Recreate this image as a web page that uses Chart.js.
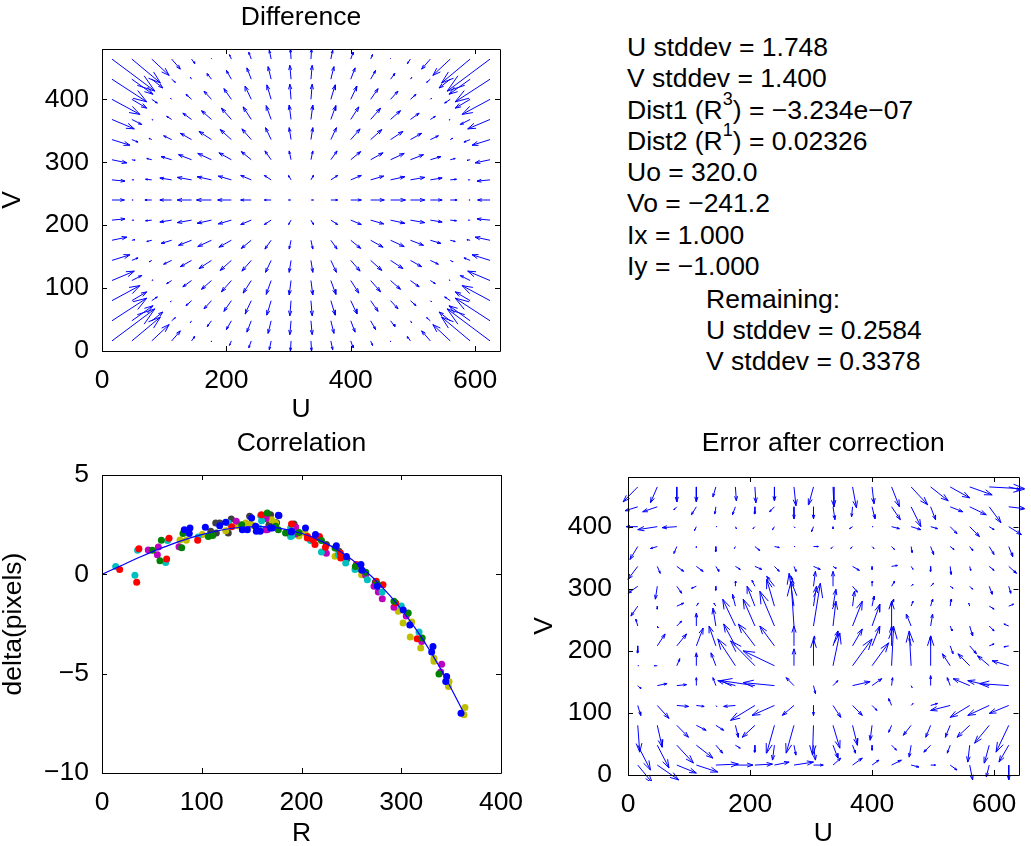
<!DOCTYPE html>
<html>
<head>
<meta charset="utf-8">
<title>Calibration</title>
<script src="https://cdn.jsdelivr.net/npm/chart.js@4.4.0/dist/chart.umd.min.js"></script>
<style>
  body { margin: 0; background: #fff; width: 1031px; height: 846px; position: relative; overflow: hidden;
         font-family: 'Liberation Sans', Arial, Helvetica, sans-serif; color: #000; }
  canvas { position: absolute; }
  .stats { position: absolute; font-size: 26.5px; line-height: 31.3px; white-space: pre; }
  .sup { font-size: 18px; vertical-align: 14px; line-height: 0; }
</style>
</head>
<body>
<canvas id="diff" width="518" height="426" style="left:-3px;top:0"></canvas>
<canvas id="corr" width="543" height="430" style="left:-3px;top:420px"></canvas>
<canvas id="err" width="516" height="430" style="left:515px;top:420px"></canvas>

<div class="stats" style="left:627px;top:32px">U stddev = 1.748
V stddev = 1.400
Dist1 (R<span class="sup">3</span>) = &minus;3.234e&minus;07
Dist2 (R<span class="sup">1</span>) = 0.02326
Uo = 320.0
Vo = &minus;241.2
Ix = 1.000
Iy = &minus;1.000</div>
<div class="stats" style="left:706px;top:284px;line-height:31px">Remaining:
U stddev = 0.2584
V stddev = 0.3378</div>

<script>
// grid of the quiver plots (pixel positions in the image)
const gridU = [16,48,80,112,144,176,208,240,272,304,336,368,400,432,464,496,528,560,592,624];
const gridV = [16,48,80,112,144,176,208,240,272,304,336,368,400,432,464];

// measured difference (pixels), rows = gridV, cols = gridU
const diffDU = [
  [6.9,4.6,2.8,1.4,0.5,0.0,-0.3,-0.4,-0.3,-0.1,0.1,0.3,0.4,0.3,0.0,-0.5,-1.4,-2.8,-4.6,-6.9],
  [5.6,3.4,1.8,0.6,-0.2,-0.7,-0.8,-0.7,-0.5,-0.2,0.2,0.5,0.7,0.8,0.7,0.2,-0.6,-1.8,-3.4,-5.6],
  [4.5,2.4,0.9,-0.2,-0.9,-1.2,-1.2,-1.0,-0.7,-0.2,0.2,0.7,1.0,1.2,1.2,0.9,0.2,-0.9,-2.4,-4.5],
  [3.6,1.6,0.2,-0.8,-1.4,-1.6,-1.6,-1.3,-0.8,-0.3,0.3,0.8,1.3,1.6,1.6,1.4,0.8,-0.2,-1.6,-3.6],
  [2.9,1.0,-0.4,-1.3,-1.8,-2.0,-1.8,-1.5,-0.9,-0.3,0.3,0.9,1.5,1.8,2.0,1.8,1.3,0.4,-1.0,-2.9],
  [2.4,0.5,-0.8,-1.7,-2.1,-2.2,-2.0,-1.6,-1.0,-0.3,0.3,1.0,1.6,2.0,2.2,2.1,1.7,0.8,-0.5,-2.4],
  [2.1,0.3,-1.0,-1.9,-2.3,-2.3,-2.1,-1.7,-1.1,-0.4,0.4,1.1,1.7,2.1,2.3,2.3,1.9,1.0,-0.3,-2.1],
  [2.0,0.2,-1.1,-1.9,-2.3,-2.4,-2.2,-1.7,-1.1,-0.4,0.4,1.1,1.7,2.2,2.4,2.3,1.9,1.1,-0.2,-2.0],
  [2.1,0.3,-1.0,-1.9,-2.3,-2.3,-2.1,-1.7,-1.1,-0.4,0.4,1.1,1.7,2.1,2.3,2.3,1.9,1.0,-0.3,-2.1],
  [2.4,0.5,-0.8,-1.7,-2.1,-2.2,-2.0,-1.6,-1.0,-0.3,0.3,1.0,1.6,2.0,2.2,2.1,1.7,0.8,-0.5,-2.4],
  [2.9,1.0,-0.4,-1.3,-1.8,-2.0,-1.8,-1.5,-0.9,-0.3,0.3,0.9,1.5,1.8,2.0,1.8,1.3,0.4,-1.0,-2.9],
  [3.6,1.6,0.2,-0.8,-1.4,-1.6,-1.6,-1.3,-0.8,-0.3,0.3,0.8,1.3,1.6,1.6,1.4,0.8,-0.2,-1.6,-3.6],
  [4.5,2.4,0.9,-0.2,-0.9,-1.2,-1.2,-1.0,-0.7,-0.2,0.2,0.7,1.0,1.2,1.2,0.9,0.2,-0.9,-2.4,-4.5],
  [5.6,3.4,1.8,0.6,-0.2,-0.7,-0.8,-0.7,-0.5,-0.2,0.2,0.5,0.7,0.8,0.7,0.2,-0.6,-1.8,-3.4,-5.6],
  [6.9,4.6,2.8,1.4,0.5,0.0,-0.3,-0.4,-0.3,-0.1,0.1,0.3,0.4,0.3,0.0,-0.5,-1.4,-2.8,-4.6,-6.9]
];
const diffDV = [
  [5.1,3.8,2.6,1.6,0.7,-0.1,-0.7,-1.1,-1.4,-1.6,-1.6,-1.4,-1.1,-0.7,-0.1,0.7,1.6,2.6,3.8,5.1],
  [3.6,2.4,1.4,0.5,-0.3,-0.9,-1.4,-1.8,-2.0,-2.2,-2.2,-2.0,-1.8,-1.4,-0.9,-0.3,0.5,1.4,2.4,3.6],
  [2.4,1.4,0.6,-0.2,-0.8,-1.3,-1.7,-2.1,-2.3,-2.4,-2.4,-2.3,-2.1,-1.7,-1.3,-0.8,-0.2,0.6,1.4,2.4],
  [1.5,0.8,0.1,-0.5,-1.0,-1.4,-1.8,-2.0,-2.2,-2.3,-2.3,-2.2,-2.0,-1.8,-1.4,-1.0,-0.5,0.1,0.8,1.5],
  [0.9,0.4,-0.2,-0.6,-1.0,-1.3,-1.6,-1.7,-1.9,-1.9,-1.9,-1.9,-1.7,-1.6,-1.3,-1.0,-0.6,-0.2,0.4,0.9],
  [0.5,0.1,-0.2,-0.5,-0.8,-1.0,-1.1,-1.3,-1.4,-1.4,-1.4,-1.4,-1.3,-1.1,-1.0,-0.8,-0.5,-0.2,0.1,0.5],
  [0.2,0.0,-0.1,-0.3,-0.4,-0.5,-0.6,-0.7,-0.7,-0.7,-0.7,-0.7,-0.7,-0.6,-0.5,-0.4,-0.3,-0.1,0.0,0.2],
  [0,0,0,0,0,0,0,0,0,0,0,0,0,0,0,0,0,0,0,0],
  [-0.2,0.0,0.1,0.3,0.4,0.5,0.6,0.7,0.7,0.7,0.7,0.7,0.7,0.6,0.5,0.4,0.3,0.1,0.0,-0.2],
  [-0.5,-0.1,0.2,0.5,0.8,1.0,1.1,1.3,1.4,1.4,1.4,1.4,1.3,1.1,1.0,0.8,0.5,0.2,-0.1,-0.5],
  [-0.9,-0.4,0.2,0.6,1.0,1.3,1.6,1.7,1.9,1.9,1.9,1.9,1.7,1.6,1.3,1.0,0.6,0.2,-0.4,-0.9],
  [-1.5,-0.8,-0.1,0.5,1.0,1.4,1.8,2.0,2.2,2.3,2.3,2.2,2.0,1.8,1.4,1.0,0.5,-0.1,-0.8,-1.5],
  [-2.4,-1.4,-0.6,0.2,0.8,1.3,1.7,2.1,2.3,2.4,2.4,2.3,2.1,1.7,1.3,0.8,0.2,-0.6,-1.4,-2.4],
  [-3.6,-2.4,-1.4,-0.5,0.3,0.9,1.4,1.8,2.0,2.2,2.2,2.0,1.8,1.4,0.9,0.3,-0.5,-1.4,-2.4,-3.6],
  [-5.1,-3.8,-2.6,-1.6,-0.7,0.1,0.7,1.1,1.4,1.6,1.6,1.4,1.1,0.7,0.1,-0.7,-1.6,-2.6,-3.8,-5.1]
];

// residual error after correction (pixels), rows = gridV, cols = gridU
const errDU = [
  [0.15,0.22,0.20,0.22,0.23,0.18,0.18,0.15,0.20,0.10,0.08,0.10,0.07,0.10,0.08,0.05,0.07,0.03,-0.03,0.00],
  [0.13,0.12,0.17,0.17,0.07,0.05,0.00,-0.02,0.02,0.02,0.05,0.03,0.00,0.05,-0.02,-0.07,-0.03,-0.02,-0.05,-0.10],
  [0.02,0.05,0.12,0.10,0.08,0.03,-0.13,-0.08,-0.08,-0.01,0.07,0.05,-0.02,-0.03,-0.08,-0.05,-0.05,-0.13,-0.15,-0.13],
  [0.03,0.12,0.12,0.08,0.01,-0.12,-0.25,-0.23,-0.12,0.00,0.08,0.10,0.05,-0.03,0.02,0.07,-0.20,-0.20,-0.22,-0.20],
  [0.03,0.10,0.10,0.00,-0.03,-0.18,-0.35,-0.32,-0.08,0.02,0.05,0.18,0.10,0.01,0.01,0.00,-0.03,-0.17,-0.22,-0.30],
  [0.01,-0.03,0.03,0.00,-0.05,-0.18,-0.25,-0.32,0.00,0.00,0.07,0.20,0.17,0.02,-0.02,0.00,-0.08,-0.12,-0.12,-0.17],
  [0.00,0.08,0.10,0.07,-0.07,-0.12,-0.17,-0.15,0.00,0.01,0.05,0.10,0.08,0.00,-0.02,0.00,0.03,0.07,0.05,-0.05],
  [-0.02,0.01,0.05,0.00,-0.03,-0.13,-0.12,-0.15,-0.03,0.07,0.03,0.10,0.08,0.00,-0.05,0.02,0.02,0.03,0.05,-0.05],
  [-0.07,0.00,0.07,0.02,-0.02,-0.03,-0.08,-0.08,-0.05,0.03,0.03,0.02,0.02,0.02,0.02,0.02,0.01,-0.01,0.05,0.05],
  [-0.10,-0.02,0.05,-0.05,0.00,0.00,-0.03,-0.08,-0.03,0.02,0.00,0.05,0.00,0.03,0.02,0.03,0.03,0.03,0.03,0.02],
  [-0.10,0.03,0.07,0.07,0.03,0.05,0.07,0.05,0.02,0.07,0.03,0.07,0.00,0.06,0.02,0.00,0.01,0.01,0.05,0.08],
  [-0.08,-0.07,-0.03,0.00,0.00,-0.01,0.05,0.05,0.01,0.05,-0.02,-0.02,0.02,0.03,0.01,0.03,0.04,0.03,0.05,0.04],
  [-0.12,-0.20,-0.15,-0.02,0.01,0.01,-0.02,-0.02,0.01,-0.02,0.00,-0.03,0.01,0.08,0.10,0.07,0.07,0.10,0.05,0.13],
  [-0.13,-0.15,-0.03,-0.05,-0.01,-0.03,0.00,-0.05,0.00,0.00,0.02,-0.01,0.03,0.09,0.10,0.05,0.13,0.17,0.12,0.17],
  [-0.15,-0.07,0.00,0.00,-0.03,0.01,0.01,0.00,0.02,-0.05,0.01,0.04,0.02,0.08,0.17,0.18,0.20,0.23,0.37,0.12]
];
const errDV = [
  [-0.18,-0.15,-0.08,-0.07,0.01,0.00,0.01,0.03,0.03,0.00,0.07,0.07,0.05,0.05,-0.02,0.00,-0.05,-0.15,-0.12,-0.15],
  [-0.25,-0.23,-0.18,-0.13,-0.08,-0.03,-0.07,-0.15,-0.10,-0.15,-0.13,-0.08,-0.05,-0.05,-0.12,-0.07,-0.08,-0.17,-0.18,-0.17],
  [-0.27,-0.22,-0.12,-0.05,-0.05,-0.12,-0.12,-0.28,-0.28,-0.30,-0.23,-0.20,-0.15,-0.07,-0.10,-0.12,-0.12,-0.12,-0.18,-0.27],
  [-0.10,-0.13,-0.01,-0.01,-0.01,-0.01,-0.15,-0.10,-0.10,-0.10,-0.12,-0.10,-0.05,0.07,0.02,0.02,-0.05,-0.12,-0.10,-0.08],
  [-0.03,0.02,0.01,0.08,0.08,0.05,0.05,0.03,0.08,-0.08,0.05,0.04,0.07,0.08,-0.02,0.10,0.08,0.07,0.05,0.02],
  [0.00,0.00,0.07,0.13,0.13,0.27,0.25,0.15,0.17,0.27,0.33,0.27,0.23,0.40,0.35,0.30,0.12,0.12,0.10,0.05],
  [-0.07,0.12,0.12,0.18,0.20,0.22,0.22,0.20,0.20,0.10,0.15,0.17,0.20,0.20,0.08,0.10,-0.08,-0.08,0.02,-0.01],
  [0.07,-0.02,0.05,0.13,0.18,0.27,0.27,0.35,0.45,0.43,0.25,0.25,0.22,0.25,0.12,0.12,-0.05,-0.10,-0.05,0.02],
  [-0.10,-0.03,0.03,0.03,0.03,0.12,0.20,0.27,0.33,0.20,0.17,0.15,0.10,0.07,0.05,0.07,0.07,0.03,-0.03,0.02],
  [-0.07,-0.13,-0.07,-0.02,-0.04,0.05,0.06,0.10,0.10,0.15,0.15,-0.06,0.05,0.05,0.02,0.03,-0.02,-0.03,-0.08,-0.07],
  [-0.13,-0.07,-0.05,-0.05,-0.05,-0.03,-0.03,-0.05,-0.05,-0.03,-0.02,-0.04,-0.03,0.01,-0.03,-0.05,-0.08,-0.04,-0.04,-0.07],
  [-0.13,-0.02,-0.07,-0.01,-0.05,-0.02,-0.04,-0.01,0.00,0.00,-0.02,-0.02,-0.02,-0.03,-0.06,-0.08,-0.03,-0.04,-0.08,-0.10],
  [0.00,-0.03,-0.01,-0.04,0.00,-0.02,-0.02,-0.03,-0.01,-0.05,-0.02,-0.02,0.00,-0.02,-0.03,-0.02,-0.07,-0.10,-0.03,-0.08],
  [-0.04,-0.05,-0.03,-0.08,-0.07,-0.08,-0.07,-0.05,-0.12,-0.12,-0.13,-0.10,-0.12,-0.13,-0.20,-0.13,-0.05,-0.08,-0.16,-0.02],
  [-0.15,-0.16,-0.15,-0.15,-0.10,-0.14,-0.16,-0.14,-0.19,-0.18,-0.20,-0.21,-0.17,-0.20,-0.18,-0.14,-0.11,-0.08,-0.02,-0.03]
];

// correlation: radius R vs radial difference, one list per image
const corrBlue = [[82.5,2.25],[88.2,2.33],[87.5,2.05],[103.6,2.37],[124,2.62],[150,2.84],[145.7,2.25],[154,2.42],[140.7,2.25],[177.4,2.96],[170.7,2.33],[158.6,2.17],[190,2.17],[204,2.33],[176.8,2.97],[154.7,2.17],[168.8,2.33],[189.8,2.13],[234.9,1.44],[259.6,0.49],[260.7,0.2],[276,-0.6],[302,-1.8],[308.6,-2.55],[331.8,-3.63],[330.5,-3.91],[345.5,-5.14],[344.6,-5.39],[359.9,-6.99],[118,2.45],[214,2.0],[245,0.9]];
const corrGreen = [[50.5,1.21],[58.1,0.69],[59.5,1.71],[79.9,1.34],[81.2,2.05],[106.6,1.91],[111,1.95],[165.7,3.09],[174,2.42],[184,2.08],[197.5,2.1],[176.8,2.25],[233.6,1.33],[254,0.4],[264.4,0.1],[276,-0.49],[292.7,-1.36],[307,-1.95],[321,-3.2],[337.8,-5.02],[140,2.5],[220,1.7]];
const corrRed = [[17.7,0.24],[34.8,-0.40],[37,1.29],[64.8,0.77],[67.2,1.81],[95.9,1.71],[159.8,3.0],[190,2.53],[206,1.91],[205.8,1.83],[214,1.86],[213.5,1.5],[224,1.36],[239,1.07],[239.3,0.82],[255,0.49],[275,-0.35],[281.7,-0.52],[294.4,-1.44],[316,-3.24],[130,2.4],[218,1.9],[211,1.75]];
const corrCyan = [[13.7,0.40],[33,-0.05],[35.7,1.21],[63.8,0.60],[65.8,1.70],[96.3,1.88],[126.6,2.58],[159,2.96],[189,2.33],[190,1.93],[157.4,2.33],[189,1.91],[209,1.70],[220,1.13],[237,0.99],[244.3,0.57],[253.6,0.24],[266,-0.27],[280.8,-0.89],[300,-1.6],[317.8,-2.9],[160,2.7]];
const corrMagenta = [[46.4,1.23],[56.5,1.38],[55.5,0.99],[77.2,1.39],[134.6,2.67],[164,2.84],[165.7,2.25],[194,2.37],[164.4,2.81],[164,2.25],[194,2.03],[194,2.38],[224.9,1.06],[264.3,-0.05],[272.7,-0.60],[277,-0.89],[281,-1.23],[292.7,-1.66],[305,-2.1],[320.5,-3.38],[340.5,-4.52],[339.5,-4.92]];
const corrYellow = [[78.2,1.73],[84.5,1.71],[100.6,2.0],[124,2.2],[144,2.58],[152,2.45],[174,2.58],[197.5,1.93],[149,2.53],[203.5,2.08],[233.6,0.91],[260.3,-0.02],[297,-1.86],[301.8,-2.45],[310.5,-2.40],[309,-3.16],[319.5,-3.71],[332.8,-4.22],[332.8,-4.38],[347.9,-5.39],[347.3,-5.64],[363.9,-6.70],[362.9,-7.07],[136,2.45],[170,2.75]];
const corrGray = [[114,2.58],[118,2.58],[109,2.17],[114.6,2.08],[129.6,2.79],[126.6,2.08],[148,2.92],[169,3.0],[167.7,2.52],[192.5,2.53],[167.4,2.47],[190.8,2.50],[217.5,1.83],[237.6,1.16],[245.5,0.79],[260,0.22],[274,-0.4],[175,2.6],[225,1.5]];

// fitted curve
const fitR = [0,20,40,60,80,100,120,140,160,180,200,220,240,260,280,300,320,340,360,362];
const fitD = [0,0.46,0.91,1.33,1.70,2.00,2.23,2.37,2.40,2.30,2.07,1.67,1.11,0.36,-0.59,-1.75,-3.15,-4.80,-6.71,-6.90];

// tick labels
const uTicks = [0, 200, 400, 600];
const vTicks = [0, 100, 200, 300, 400];
const rTicks = [0, 100, 200, 300, 400];
const dTicks = [-10, -5, 0, 5];

const FONT = "'Liberation Sans', Arial, Helvetica, sans-serif";
const FS = 26.5;
Chart.defaults.font.family = FONT;
Chart.defaults.font.size = FS;
Chart.defaults.color = '#000';

const DIFF_SCALE = 10;   // quiver length factor, difference plot
const ERR_SCALE = 160;   // quiver length factor, error plot

// tail -> head plus matlab style arrow head, nulls break the line
function quiver(du, dv, s) {
  const pts = [];
  gridV.forEach((v, j) => gridU.forEach((u, i) => {
    const a = du[j][i] * s, b = dv[j][i] * s;
    const hx = u + a, hy = v + b;
    pts.push({x: u, y: v}, {x: hx, y: hy}, {x: null, y: null});
    pts.push({x: hx - 0.33 * (a + 0.33 * b), y: hy - 0.33 * (b - 0.33 * a)},
             {x: hx, y: hy},
             {x: hx - 0.33 * (a - 0.33 * b), y: hy - 0.33 * (b + 0.33 * a)},
             {x: null, y: null});
  }));
  return pts;
}

// full box with inward ticks
const boxPlugin = {
  id: 'box',
  afterDatasetsDraw(chart) {
    const {ctx, chartArea: a, scales} = chart;
    ctx.save();
    ctx.strokeStyle = '#000';
    ctx.lineWidth = 1;
    ctx.beginPath();
    ctx.rect(Math.round(a.left) + 0.5, Math.round(a.top) + 0.5,
             Math.round(a.right - a.left), Math.round(a.bottom - a.top));
    scales.x.ticks.forEach(t => {
      const p = Math.round(scales.x.getPixelForValue(t.value)) + 0.5;
      ctx.moveTo(p, a.bottom); ctx.lineTo(p, a.bottom - 5);
      ctx.moveTo(p, a.top); ctx.lineTo(p, a.top + 5);
    });
    scales.y.ticks.forEach(t => {
      const p = Math.round(scales.y.getPixelForValue(t.value)) + 0.5;
      ctx.moveTo(a.left, p); ctx.lineTo(a.left + 5, p);
      ctx.moveTo(a.right, p); ctx.lineTo(a.right - 5, p);
    });
    ctx.stroke();
    ctx.restore();
  }
};

function axis(min, max, ticks, title, size, pad, titlePad, horizontal) {
  return {
    type: 'linear', min: min, max: max,
    grid: {display: false, drawTicks: false},
    border: {display: false},
    afterBuildTicks: s => { s.ticks = ticks.map(v => ({value: v})); },
    afterFit: s => { if (horizontal) s.height = size; else s.width = size; },
    ticks: {padding: pad, callback: v => String(v).replace('-', '\u2212')},
    title: {display: true, text: title, font: {size: FS}, padding: titlePad}
  };
}

function baseOptions(titleText, titlePad, padRight, xs, ys) {
  return {
    responsive: false, animation: false, devicePixelRatio: 1,
    layout: {padding: {left: 0, top: 0, bottom: 0, right: padRight}},
    plugins: {
      legend: {display: false}, tooltip: {enabled: false},
      title: {display: true, text: titleText, fullSize: false,
              font: {size: FS, weight: 'normal', lineHeight: 1.2}, color: '#000', padding: titlePad}
    },
    scales: {x: xs, y: ys}
  };
}

function quiverSet(data) {
  return {data: data, showLine: true, spanGaps: false, borderColor: '#0000ff', borderWidth: 1,
          pointRadius: 0, pointHoverRadius: 0, clip: 6};
}

new Chart(document.getElementById('diff'), {
  type: 'scatter',
  data: {datasets: [quiverSet(quiver(diffDU, diffDV, DIFF_SCALE))]},
  options: baseOptions('Difference', {top: 2, bottom: 15.2}, 15,
    axis(0, 640, uTicks, 'U', 75, 14, {top: 0, bottom: 0}, true),
    axis(0, 480, vTicks, 'V', 105, 13, {top: 0, bottom: 0}, false)),
  plugins: [boxPlugin]
});

const dot = (pts, color) => ({data: pts.map(p => ({x: p[0], y: p[1]})), showLine: false,
  pointRadius: 3.5, pointBorderWidth: 0, pointBackgroundColor: color, pointBorderColor: color});

new Chart(document.getElementById('corr'), {
  type: 'scatter',
  data: {datasets: [
    {data: fitR.map((r, i) => ({x: r, y: fitD[i]})), showLine: true, borderColor: '#0000ff',
     borderWidth: 1.2, pointRadius: 0, cubicInterpolationMode: 'monotone'},
    dot(corrBlue, '#0000ff'), dot(corrGreen, '#008000'), dot(corrRed, '#ff0000'),
    dot(corrCyan, '#00bfbf'), dot(corrMagenta, '#bf00bf'), dot(corrYellow, '#bfbf00'),
    dot(corrGray, '#404040')
  ]},
  options: baseOptions('Correlation', {top: 8, bottom: 15.2}, 39,
    axis(0, 400, rTicks, 'R', 77, 14, {top: 0, bottom: 0}, true),
    axis(-10, 5, dTicks, 'delta(pixels)', 105, 13, {top: 1, bottom: 0}, false)),
  plugins: [boxPlugin]
});

new Chart(document.getElementById('err'), {
  type: 'scatter',
  data: {datasets: [quiverSet(quiver(errDU, errDV, ERR_SCALE))]},
  options: baseOptions('Error after correction', {top: 8, bottom: 17.2}, 3,
    axis(0, 640, uTicks, 'U', 75, 14, {top: 0, bottom: 0}, true),
    axis(0, 480, vTicks, 'V', 113, 16, {top: 14, bottom: 0}, false)),
  plugins: [boxPlugin]
});
</script>
</body>
</html>
